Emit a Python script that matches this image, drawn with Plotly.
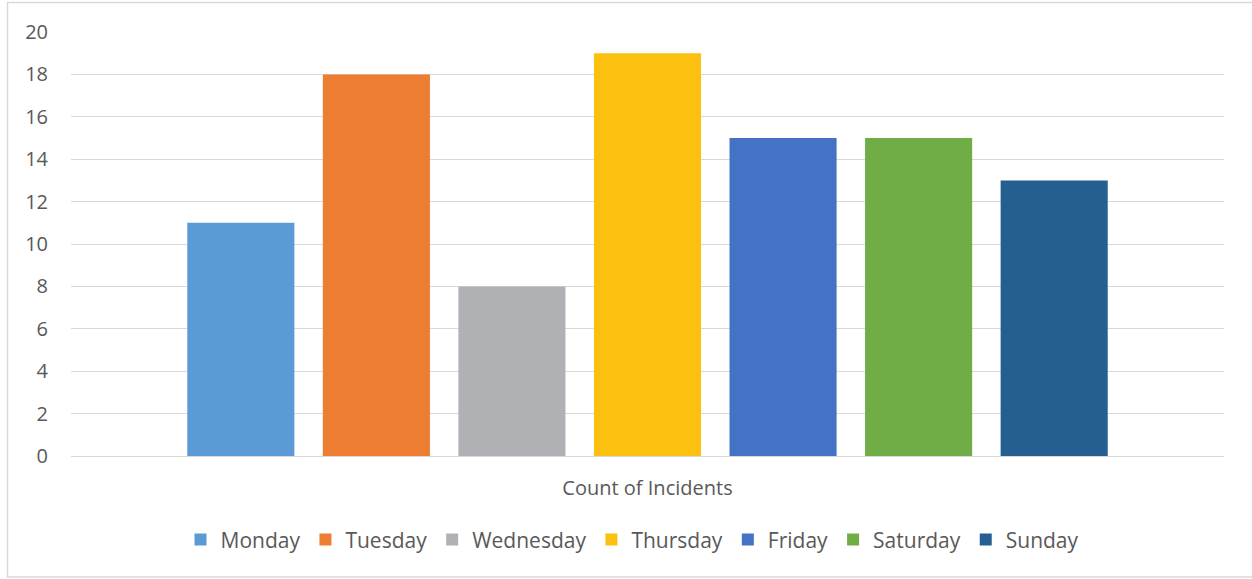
import plotly.graph_objects as go

category = ["Count of Incidents"]
days = ["Monday", "Tuesday", "Wednesday", "Thursday", "Friday", "Saturday", "Sunday"]
counts = [11, 18, 8, 19, 15, 15, 13]
colors = ["#5B9BD5", "#ED7D31", "#B0B1B4", "#FCC010", "#4472C4", "#70AD47", "#255E91"]
y_ticks = [0, 2, 4, 6, 8, 10, 12, 14, 16, 18, 20]

FONT = "Open Sans, sans-serif"
TXT = "#595959"

fig = go.Figure()
for d, v, c in zip(days, counts, colors):
    fig.add_trace(go.Bar(x=category, y=[v], name=d, marker=dict(color=c, line=dict(width=0))))

fig.update_layout(
    width=1252, height=579,
    margin=dict(l=71, r=28, t=32, b=123),
    paper_bgcolor="white", plot_bgcolor="white",
    barmode="group", bargap=0.177, bargroupgap=0.21,
    font=dict(family=FONT, color=TXT, size=20),
    showlegend=True,
    legend=dict(orientation="h", x=0.487, xanchor="center", y=-0.198, yanchor="middle",
                font=dict(size=21, color=TXT), itemwidth=30, traceorder="normal"),
    xaxis=dict(showline=False, ticks="", tickfont=dict(size=20, color=TXT),
               ticklabelstandoff=18, fixedrange=True),
    yaxis=dict(range=[0, 20], tickvals=y_ticks, showgrid=True, gridcolor="#D9D9D9", gridwidth=1,
               zeroline=True, zerolinecolor="#D9D9D9", zerolinewidth=1,
               showline=False, ticks="", ticklabelstandoff=22,
               tickfont=dict(size=20, color=TXT)),
    shapes=[dict(type="rect", xref="paper", yref="paper",
                 x0=(7.5 - 71) / 1153, x1=(1260 - 71) / 1153,
                 y0=(456 - 577) / 424, y1=(456 - 2.5) / 424,
                 line=dict(color="#D9D9D9", width=1.5), fillcolor="rgba(0,0,0,0)", layer="below")],
)

fig.write_html("out.html", config={"displayModeBar": False},
               post_script="document.body.style.margin='0';document.body.style.overflow='hidden';")
